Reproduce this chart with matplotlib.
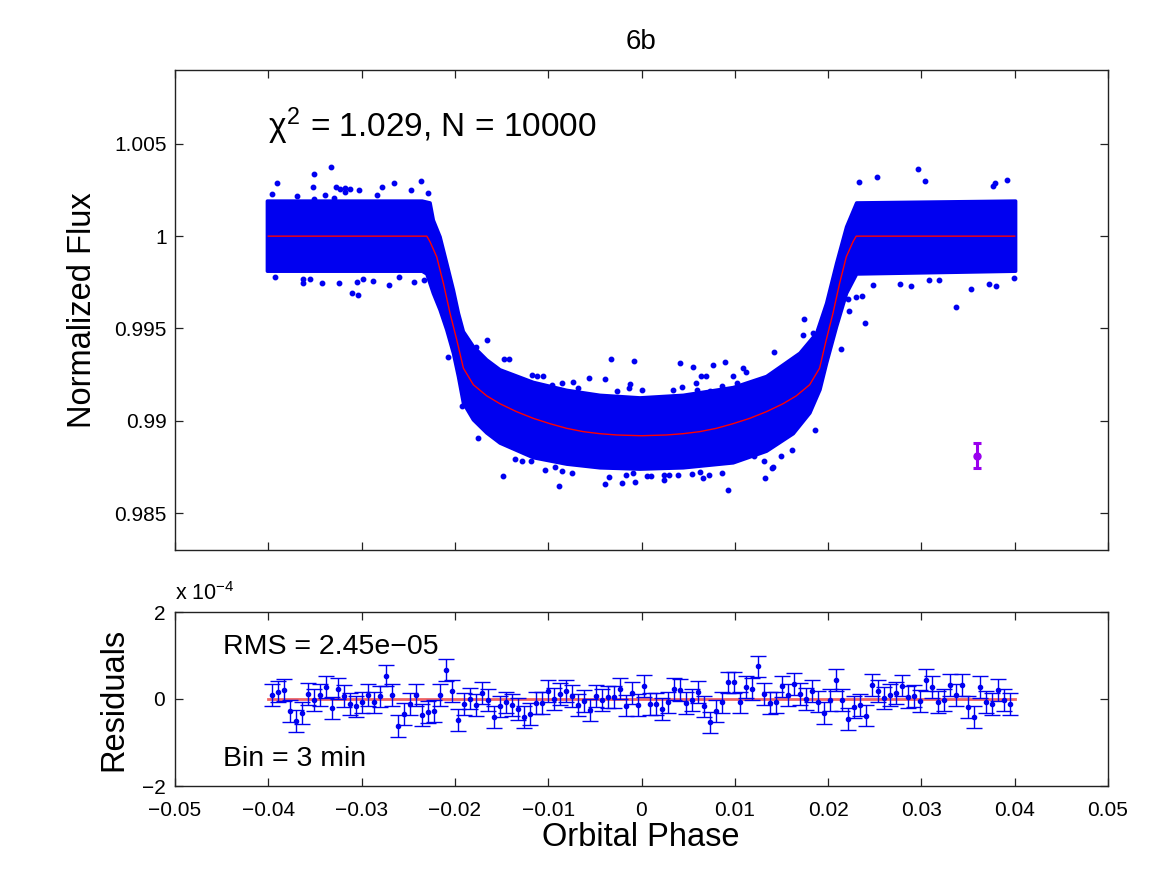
import matplotlib
matplotlib.use("Agg")
import matplotlib.pyplot as plt

plt.rcParams['font.family'] = ['Liberation Sans', 'DejaVu Sans']
plt.rcParams['mathtext.fontset'] = 'custom'
plt.rcParams['mathtext.rm'] = 'Liberation Sans'
plt.rcParams['mathtext.it'] = 'Liberation Sans'
plt.rcParams['axes.unicode_minus'] = True

# ---------------- data ----------------
title = "6b"
# dense cloud of individual flux measurements: upper and lower envelopes
cloud_upper_phase = [-0.0401, -0.0235, -0.02266, -0.02231, -0.02159, -0.02087, -0.02016, -0.01962,
                     -0.01909, -0.01802, -0.01659, -0.01516, -0.01159, -0.00802, -0.00445, -0.00016,
                     0.00448, 0.00984, 0.01341, 0.01520, 0.01698, 0.01877, 0.01984, 0.02091,
                     0.02198, 0.02306, 0.0401]
cloud_upper_flux = [1.0019, 1.0019, 1.0018, 1.00086, 0.99996, 0.99852, 0.99708, 0.99582,
                    0.99483, 0.99402, 0.99330, 0.99276, 0.99208, 0.99165, 0.99138, 0.99124,
                    0.99138, 0.99180, 0.99240, 0.99303, 0.99366, 0.99474, 0.99636, 0.99852,
                    1.00050, 1.0018, 1.0019]
cloud_lower_phase = [-0.0401, -0.0235, -0.02301, -0.02231, -0.02159, -0.02087, -0.02016, -0.01962,
                     -0.01909, -0.01802, -0.01659, -0.01516, -0.01159, -0.00802, -0.00445, -0.00016,
                     0.00448, 0.00984, 0.01341, 0.01627, 0.01805, 0.01913, 0.01984, 0.02091,
                     0.02198, 0.02306, 0.0401]
cloud_lower_flux = [0.9981, 0.9981, 0.99795, 0.99690, 0.99600, 0.99492, 0.99366, 0.99239,
                    0.99096, 0.99005, 0.98934, 0.98879, 0.98800, 0.98765, 0.98745, 0.98738,
                    0.98745, 0.98772, 0.98835, 0.98930, 0.99042, 0.99168, 0.99312, 0.99510,
                    0.99690, 0.99795, 0.9981]

# isolated points outside the dense cloud
outlier_phase = [-0.03327, -0.03506, -0.03909, -0.03523, -0.02366, -0.02652, -0.02777, -0.03276,
                 -0.03177, -0.03023, -0.03959, -0.02470, -0.02291, -0.03099, -0.03041, -0.03426,
                 -0.03241, -0.02705, -0.03630, -0.03927, -0.03552, -0.02981, -0.02877, -0.01652,
                 -0.01776, -0.02076, -0.01920, -0.01755, -0.01481, -0.00887, 0.00930, 0.01320,
                 -0.00070, -0.00212, -0.00391, -0.01037, 0.01859, 0.01609, 0.01395, 0.01491,
                 -0.00324, -0.00077, 0.00412, 0.00891, 0.00769, 0.00549, 0.01744, 0.01841,
                 0.01727, 0.01423, -0.00562, -0.00394, -0.01470, -0.01420, 0.02134, 0.02226,
                 0.02298, 0.02216, 0.02398, 0.02359, 0.02962, 0.02526, 0.02330, 0.03037,
                 0.03919, 0.03787, 0.03769, 0.03366, 0.03530, 0.02884, 0.02770, 0.03084,
                 0.03187, 0.03723, 0.03795, 0.02484, 0.03994,
                 -0.03227, -0.03120, -0.03180, -0.03388, -0.03691, -0.03512, -0.02834, -0.03298,
                 -0.03048, -0.02601, -0.02441, -0.02327, -0.03630,
                 -0.00855, -0.00748, -0.00348, -0.00169, -0.00088, 0.00062, 0.00099, 0.00241,
                 0.00241, 0.00295, 0.00394, 0.00538, 0.00627, 0.00662, 0.00726, 0.00859,
                 0.01313, 0.01412, 0.01209, -0.01355, -0.01284, -0.01184, -0.00927,
                 -0.01176, -0.01123, -0.01052, -0.00855, -0.00737, -0.00123, -0.00131, -0.00266,
                 0.00002, 0.00341, 0.00431, 0.00637, 0.00691, 0.00584, 0.00598, 0.00734,
                 0.00984, 0.01084, 0.01120, 0.01020, 0.00859, -0.00677, -0.00873, -0.01248,
                 -0.00962]
outlier_flux = [1.00375, 1.00335, 1.00290, 1.00266, 1.00297, 1.00290, 1.00266, 1.00266,
                1.00263, 1.00249, 1.00227, 1.00252, 1.00236, 0.99692, 0.99683, 0.99744,
                0.99748, 0.99737, 0.99748, 0.99780, 0.99769, 0.99766, 0.99757, 0.99440,
                0.99402, 0.99344, 0.99081, 0.98904, 0.98703, 0.98649, 0.98623, 0.98688,
                0.98667, 0.98663, 0.98658, 0.98731, 0.98951, 0.98843, 0.98744, 0.98811,
                0.99337, 0.99323, 0.99314, 0.99317, 0.99303, 0.99290, 0.99551, 0.99474,
                0.99465, 0.99371, 0.99234, 0.99227, 0.99334, 0.99337, 0.99391, 0.99596,
                0.99672, 0.99659, 0.99528, 0.99676, 1.00362, 1.00321, 1.00292, 1.00297,
                1.00303, 1.00290, 1.00272, 0.99618, 0.99712, 0.99731, 0.99741, 0.99761,
                0.99761, 0.99741, 0.99731, 0.99735, 0.99775,
                1.00258, 1.00258, 1.00240, 1.00222, 1.00216, 1.00202, 1.00222, 1.00204,
                0.99750, 0.99778, 0.99751, 0.99764, 0.99769,
                0.98730, 0.98717, 0.98694, 0.98704, 0.98717, 0.98699, 0.98699, 0.98677,
                0.98708, 0.98704, 0.98708, 0.98714, 0.98723, 0.98690, 0.98704, 0.98717,
                0.98780, 0.98748, 0.98807, 0.98795, 0.98784, 0.98780, 0.98748,
                0.99249, 0.99240, 0.99240, 0.99204, 0.99212, 0.99200, 0.99177, 0.99162,
                0.99168, 0.99168, 0.99185, 0.99245, 0.99245, 0.99204, 0.99168, 0.99162,
                0.99240, 0.99288, 0.99263, 0.99204, 0.99191, 0.99177, 0.99168, 0.99216,
                0.99195]

# transit model
model_phase = [-0.0400, -0.02301, -0.02266, -0.02195, -0.02123, -0.02052, -0.01980, -0.01909,
               -0.01802, -0.01659, -0.01516, -0.01338, -0.01159, -0.00980, -0.00802, -0.00623,
               -0.00445, -0.00266, 0.0, 0.00266, 0.00445, 0.00623, 0.00802, 0.00980,
               0.01159, 0.01338, 0.01516, 0.01659, 0.01802, 0.01909, 0.01980, 0.02052,
               0.02123, 0.02195, 0.02266, 0.02301, 0.0400]
model_flux = [1.0, 1.0, 0.99969, 0.99888, 0.99744, 0.99582, 0.99438, 0.99285,
              0.99195, 0.99135, 0.99092, 0.99049, 0.99013, 0.98984, 0.98959, 0.98941,
              0.98930, 0.98923, 0.98919, 0.98923, 0.98930, 0.98941, 0.98959, 0.98984,
              0.99013, 0.99049, 0.99092, 0.99135, 0.99195, 0.99285, 0.99438, 0.99582,
              0.99744, 0.99888, 0.99969, 1.0, 1.0]

# typical single-point error bar
err_phase = [0.036]
err_flux = [0.98811]
err_size = [0.00068]

# binned residuals (units of 1e-4)
bin_phase = [-0.03962, -0.03898, -0.03833, -0.03769, -0.03705, -0.03640, -0.03576, -0.03512,
             -0.03448, -0.03383, -0.03319, -0.03255, -0.03190, -0.03126, -0.03062, -0.02997,
             -0.02933, -0.02869, -0.02805, -0.02740, -0.02676, -0.02612, -0.02547, -0.02483,
             -0.02419, -0.02355, -0.02290, -0.02226, -0.02162, -0.02097, -0.02033, -0.01969,
             -0.01904, -0.01840, -0.01776, -0.01712, -0.01647, -0.01583, -0.01519, -0.01454,
             -0.01390, -0.01326, -0.01261, -0.01197, -0.01133, -0.01069, -0.01004, -0.00940,
             -0.00876, -0.00811, -0.00747, -0.00683, -0.00618, -0.00554, -0.00490, -0.00426,
             -0.00361, -0.00297, -0.00233, -0.00168, -0.00104, -0.00040, 0.00025, 0.00089,
             0.00153, 0.00218, 0.00282, 0.00346, 0.00411, 0.00475, 0.00539, 0.00603,
             0.00668, 0.00732, 0.00796, 0.00861, 0.00925, 0.00989, 0.01054, 0.01118,
             0.01182, 0.01246, 0.01311, 0.01375, 0.01439, 0.01504, 0.01568, 0.01632,
             0.01697, 0.01761, 0.01825, 0.01889, 0.01954, 0.02018, 0.02082, 0.02147,
             0.02211, 0.02275, 0.02340, 0.02404, 0.02468, 0.02532, 0.02597, 0.02661,
             0.02725, 0.02790, 0.02854, 0.02918, 0.02983, 0.03047, 0.03111, 0.03175,
             0.03240, 0.03304, 0.03368, 0.03433, 0.03497, 0.03561, 0.03626, 0.03690,
             0.03754, 0.03818, 0.03883, 0.03947]
bin_resid_e4 = [0.10, 0.17, 0.21, -0.28, -0.51, -0.33, 0.12, -0.03,
                0.09, 0.28, -0.21, 0.24, 0.07, -0.11, -0.17, -0.08,
                0.09, -0.08, 0.06, 0.54, 0.10, -0.62, -0.34, -0.11,
                0.10, -0.37, -0.30, -0.28, 0.10, 0.66, 0.19, -0.49,
                -0.11, 0.01, -0.14, 0.14, -0.03, -0.42, -0.17, -0.08,
                -0.14, -0.23, -0.42, -0.34, -0.10, -0.09, 0.18, 0.00,
                0.11, 0.18, 0.07, -0.13, -0.04, -0.25, 0.07, -0.02,
                0.04, 0.05, 0.24, -0.15, 0.14, -0.13, 0.30, -0.11,
                -0.11, -0.23, -0.08, 0.23, 0.21, -0.09, -0.02, 0.16,
                -0.17, -0.54, -0.28, -0.08, 0.38, 0.38, -0.08, 0.28,
                0.23, 0.75, 0.12, -0.10, -0.08, 0.29, 0.09, 0.34,
                0.11, 0.00, 0.18, -0.06, -0.32, -0.02, 0.43, -0.02,
                -0.46, -0.19, -0.14, -0.38, 0.33, 0.18, 0.03, 0.09,
                0.14, 0.31, 0.05, 0.07, -0.05, 0.44, 0.27, -0.07,
                -0.02, 0.33, 0.09, 0.33, -0.18, -0.42, 0.27, -0.07,
                -0.11, 0.20, -0.03, -0.11]
bin_err_e4 = 0.25
resid_model_phase = [-0.04, 0.04]
resid_model_e4 = [0.0, 0.0]

x_ticks = [-0.05, -0.04, -0.03, -0.02, -0.01, 0.0, 0.01, 0.02, 0.03, 0.04, 0.05]
x_ticklabels = ["\u22120.05", "\u22120.04", "\u22120.03", "\u22120.02", "\u22120.01", "0",
                "0.01", "0.02", "0.03", "0.04", "0.05"]
flux_ticks = [0.985, 0.99, 0.995, 1.0, 1.005]
flux_ticklabels = ["0.985", "0.99", "0.995", "1", "1.005"]
resid_ticks = [-2, 0, 2]
resid_ticklabels = ["\u22122", "0", "2"]

chi_text = r"$\chi^{2}$ = 1.029, N = 10000"
rms_text = "RMS = 2.45e\u221205"
bin_text = "Bin = 3 min"
scale_text = r"x 10$^{-4}$"

# ---------------- figure ----------------
W, H = 1164, 875
fig = plt.figure(figsize=(W / 100, H / 100), dpi=100)

def fx(px):
    return px / W

def fy(py):
    return 1 - py / H

ax1 = fig.add_axes([fx(175), fy(550), fx(1108) - fx(175), fy(70) - fy(550)])
ax2 = fig.add_axes([fx(175), fy(786), fx(1108) - fx(175), fy(612) - fy(786)])

blue = '#0000f0'

# cloud polygon
poly_x = list(cloud_upper_phase) + list(reversed(cloud_lower_phase))
poly_y = list(cloud_upper_flux) + list(reversed(cloud_lower_flux))
ax1.fill(poly_x, poly_y, facecolor=blue, edgecolor=blue, linewidth=2.5,
         joinstyle='round', zorder=2)
ax1.plot(outlier_phase, outlier_flux, 'o', color=blue, ms=3.2, mec=blue, zorder=2)
ax1.plot(model_phase, model_flux, '-', color='red', lw=1.0, zorder=3)
ax1.errorbar(err_phase, err_flux, yerr=err_size, fmt='o', color='#9a00ee', ms=5,
             elinewidth=2.2, capsize=3, capthick=2.2, zorder=4)
ax1.text(-0.04, 1.00534, chi_text, fontsize=24, va='baseline', ha='left')

ax1.set_xlim(-0.05, 0.05)
ax1.set_ylim(0.983, 1.009)
ax1.set_xticks(x_ticks)
ax1.set_xticklabels([])
ax1.set_yticks(flux_ticks)
ax1.set_yticklabels(flux_ticklabels)

# residuals
ax2.plot(resid_model_phase, resid_model_e4, '-', color='#f06464', lw=2, zorder=2)
ax2.errorbar(bin_phase, bin_resid_e4, yerr=bin_err_e4, fmt='.', color=blue, ms=6,
             elinewidth=1.0, capsize=6, capthick=1.0, zorder=3)
ax2.text(-0.04481, 1.04, rms_text, fontsize=20.5, va='baseline', ha='left')
ax2.text(-0.04481, -1.55, bin_text, fontsize=20.5, va='baseline', ha='left')
ax2.set_xlim(-0.05, 0.05)
ax2.set_ylim(-2, 2)
ax2.set_xticks(x_ticks)
ax2.set_xticklabels(x_ticklabels)
ax2.set_yticks(resid_ticks)
ax2.set_yticklabels(resid_ticklabels)
ax2.text(0.0, 1.04, scale_text, transform=ax2.transAxes, fontsize=15.5, va='bottom', ha='left')

for ax in (ax1, ax2):
    ax.tick_params(direction='in', top=True, right=True, length=6, width=0.9,
                   labelsize=15, pad=6, colors='#222222', labelcolor='black')
    for s in ax.spines.values():
        s.set_linewidth(1.0)
        s.set_color('#222222')
ax2.tick_params(axis='x', pad=10.5)
ax2.tick_params(axis='y', pad=7)

ax1.set_ylabel("Normalized Flux", fontsize=23.5)
ax1.yaxis.set_label_coords((98 - 175) / 933, 0.5)
ax2.set_ylabel("Residuals", fontsize=23.5)
ax2.yaxis.set_label_coords((129 - 175) / 933, 0.5)

fig.text(fx(641), fy(837), "Orbital Phase", fontsize=23.5, ha='center', va='center')
fig.text(fx(641), fy(42), title, fontsize=20, ha='center', va='center')

fig.savefig("out.png", dpi=100)
